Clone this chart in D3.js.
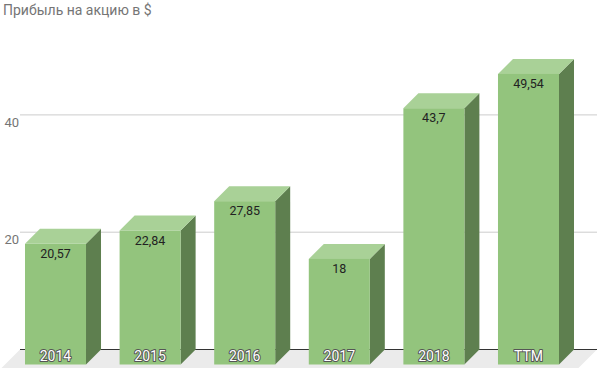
<!DOCTYPE html>
<html><head><meta charset="utf-8">
<script src="https://cdn.jsdelivr.net/npm/d3@7"></script>
<style>body{margin:0;background:#fff}svg{display:block;font-family:Roboto,sans-serif}</style>
</head><body><svg id="c" width="597" height="368"></svg>
<script>
const categories = ["2014","2015","2016","2017","2018","TTM"];
const values = [20.57, 22.84, 27.85, 18, 43.7, 49.54];
const valueLabels = ["20,57","22,84","27,85","18","43,7","49,54"];
const yTicks = [20, 40];
const title = "Прибыль на акцию в $";

const svg = d3.select("#c");
const depth = 15;
const backZero = 349.5;
const pxPerUnit = 5.865;
const y = d3.scaleLinear().domain([0, 50]).range([backZero, backZero - 50*pxPerUnit]);
const x = d3.scaleBand().domain(categories).range([25, 559]).paddingInner(0.355).paddingOuter(0);
const bw = x.bandwidth();
const wallLeft = 20, wallRight = 597;

// title
svg.append("text").attr("x", 3).attr("y", 15).attr("fill", "#757575")
  .style("font-size", "14px").text(title);

// floor
svg.append("path").attr("fill", "#ebebeb")
  .attr("d", `M${wallLeft},${backZero}L${wallRight},${backZero}L${wallRight-depth-4},${backZero+depth+4}L${wallLeft-depth-4},${backZero+depth+4}Z`);

// gridlines
svg.selectAll(".grid").data(yTicks).join("line")
  .attr("x1", wallLeft).attr("x2", wallRight)
  .attr("y1", d => y(d)).attr("y2", d => y(d))
  .attr("stroke", "#cccccc").attr("stroke-width", 1);
svg.append("line").attr("x1", wallLeft).attr("x2", wallRight)
  .attr("y1", backZero).attr("y2", backZero).attr("stroke", "#333").attr("stroke-width", 1);

// axis labels
svg.selectAll(".yl").data(yTicks).join("text")
  .attr("x", 19).attr("y", d => y(d) + 12).attr("text-anchor", "end")
  .attr("fill", "#757575").style("font-size", "13px").text(d => d);

// bars
const g = svg.selectAll(".bar").data(values).join("g");
g.each(function(v, i) {
  const sel = d3.select(this);
  const x0 = x(categories[i]);
  const x1 = x0 + bw;
  const yt = y(v) + depth;        // front top
  const yb = backZero + depth;    // front bottom
  sel.append("path").attr("fill", "#5e7f4f")
    .attr("d", `M${x1},${yt}L${x1+depth},${yt-depth}L${x1+depth},${yb-depth}L${x1},${yb}Z`);
  sel.append("path").attr("fill", "#a9d197")
    .attr("d", `M${x0},${yt}L${x0+depth},${yt-depth}L${x1+depth},${yt-depth}L${x1},${yt}Z`);
  sel.append("rect").attr("x", x0).attr("y", yt).attr("width", bw).attr("height", yb - yt)
    .attr("fill", "#93c47d");
  sel.append("text").attr("x", x0 + bw/2).attr("y", yt + 14).attr("text-anchor", "middle")
    .attr("fill", "#222").style("font-size", "12.5px").text(valueLabels[i]);
  sel.append("text").attr("x", x0 + bw/2).attr("y", 361).attr("text-anchor", "middle")
    .attr("fill", "#fff").attr("stroke", "#555").attr("stroke-width", 2)
    .attr("paint-order", "stroke").attr("stroke-linejoin", "round")
    .style("font-size", "14px").text(categories[i]);
});
</script></body></html>
